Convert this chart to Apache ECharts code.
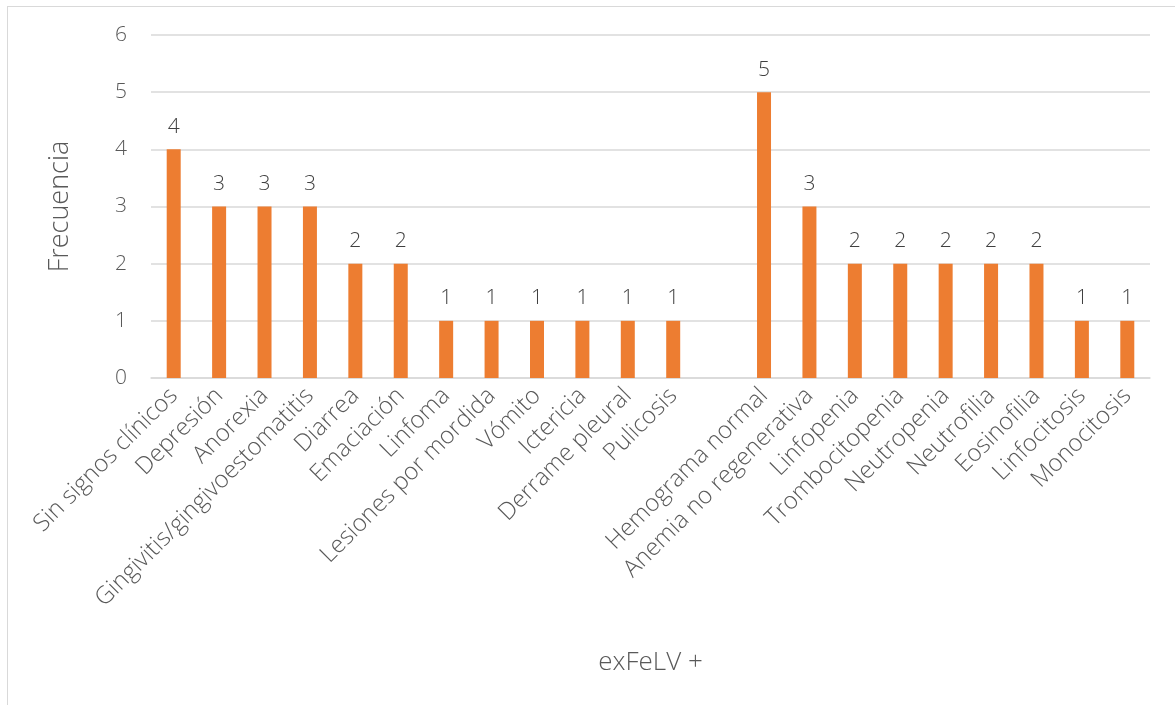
<!DOCTYPE html>
<html>
<head>
<meta charset="utf-8">
<script src="https://cdn.jsdelivr.net/npm/echarts@6/dist/echarts.min.js"></script>
<style>
html,body{margin:0;padding:0;background:#fff;}
#frame{position:absolute;left:7px;top:6px;width:1200px;height:720px;border-left:1.5px solid #d9d9d9;border-top:1.5px solid #d9d9d9;box-sizing:border-box;}
#chart{position:absolute;left:0;top:0;width:1175px;height:705px;}
</style>
</head>
<body>
<div id="frame"></div>
<div id="chart"></div>
<script>
const categories = [
  "Sin signos clínicos","Depresión","Anorexia","Gingivitis/gingivoestomatitis","Diarrea","Emaciación",
  "Linfoma","Lesiones por mordida","Vómito","Ictericia","Derrame pleural","Pulicosis",
  "",
  "Hemograma normal","Anemia no regenerativa","Linfopenia","Trombocitopenia","Neutropenia",
  "Neutrofilia","Eosinofilia","Linfocitosis","Monocitosis"
];
const frecuencia = [4,3,3,3,2,2,1,1,1,1,1,1,null,5,3,2,2,2,2,2,1,1];
const yTicks = [0,1,2,3,4,5,6];

const font = "'Open Sans', 'Noto Sans', sans-serif";
const chart = echarts.init(document.getElementById('chart'));
chart.setOption({
  animation:false,
  grid:{left:151,right:25,top:35,bottom:327,containLabel:false},
  xAxis:{
    type:'category',
    data:categories,
    name:'exFeLV +',
    nameLocation:'middle',
    nameGap:272,
    nameTextStyle:{fontFamily:font,fontSize:26,fontWeight:300,color:'#595959'},
    axisLine:{lineStyle:{color:'#d9d9d9',width:1.5}},
    axisTick:{show:false},
    axisLabel:{interval:0,rotate:45,fontFamily:font,fontSize:24,fontWeight:300,color:'#595959',margin:14}
  },
  yAxis:{
    type:'value',
    min:yTicks[0],max:yTicks[yTicks.length-1],interval:1,
    name:'Frecuencia',
    nameLocation:'middle',
    nameGap:77,
    nameRotate:90,
    nameTextStyle:{fontFamily:font,fontSize:27,fontWeight:300,color:'#595959'},
    axisLine:{show:false},
    axisTick:{show:false},
    splitLine:{lineStyle:{color:'#d9d9d9',width:1.5}},
    axisLabel:{fontFamily:font,fontSize:21,fontWeight:300,color:'#595959',margin:24}
  },
  series:[{
    type:'bar',
    data:frecuencia,
    barWidth:14,
    itemStyle:{color:'#ED7D31'},
    label:{show:true,position:'top',distance:12,fontFamily:font,fontSize:21,fontWeight:300,color:'#404040'}
  }]
});
</script>
</body>
</html>
